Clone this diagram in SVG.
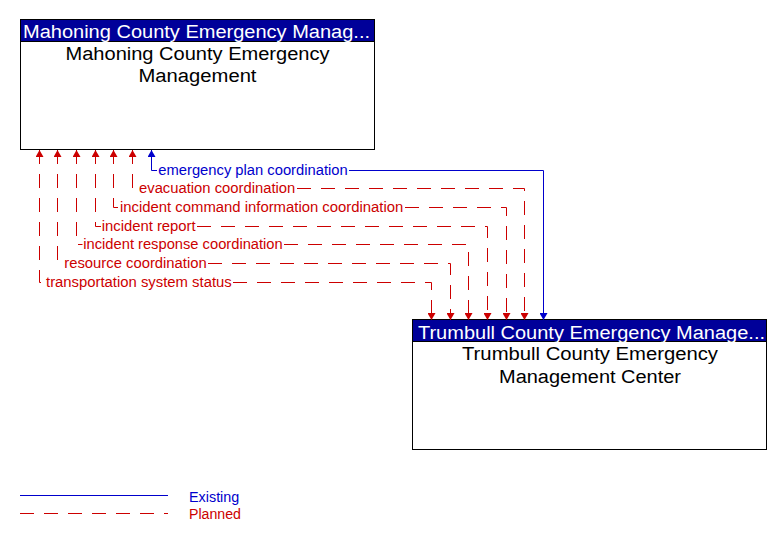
<svg xmlns="http://www.w3.org/2000/svg" width="783" height="542" viewBox="0 0 783 542">
<style>
  .box { fill: #ffffff; stroke: #000000; stroke-width: 1; }
  .hdr { fill: #000099; stroke: #000000; stroke-width: 1; }
  .ht { font-family: "Liberation Sans", Arial, sans-serif; font-size: 18px; fill: #ffffff; }
  .bt { font-family: "Liberation Sans", Arial, sans-serif; font-size: 18px; fill: #000000; text-anchor: middle; }
  .lbl { font-family: "Liberation Sans", Arial, sans-serif; font-size: 14px; }
  .red { fill: none; stroke: #CC0000; stroke-width: 1; stroke-dasharray: 14 10; }
  .blue { fill: none; stroke: #0000CC; stroke-width: 1; }
  .rt { fill: #CC0000; }
  .btx { fill: #0000CC; }
</style>
<defs>
  <marker id="ar" viewBox="0 0 7 8" refX="7" refY="4" markerWidth="7" markerHeight="8" markerUnits="userSpaceOnUse" orient="auto-start-reverse">
    <path d="M0,0 L7,4 L0,8 z" fill="#CC0000"/>
  </marker>
  <marker id="ab" viewBox="0 0 7 8" refX="7" refY="4" markerWidth="7" markerHeight="8" markerUnits="userSpaceOnUse" orient="auto-start-reverse">
    <path d="M0,0 L7,4 L0,8 z" fill="#0000CC"/>
  </marker>
</defs>

<g id="mahoning">
  <rect class="box" x="20.5" y="19.5" width="354" height="130"/>
  <rect class="hdr" x="20.5" y="19.5" width="354" height="22"/>
  <text class="ht" x="23" y="38" textLength="347" lengthAdjust="spacingAndGlyphs">Mahoning County Emergency Manag...</text>
  <text class="bt" x="197.5" y="60" textLength="264" lengthAdjust="spacingAndGlyphs">Mahoning County Emergency</text>
  <text class="bt" x="197.5" y="82" textLength="118" lengthAdjust="spacingAndGlyphs">Management</text>
</g>

<g id="trumbull">
  <rect class="box" x="412.5" y="319.5" width="354" height="130"/>
  <rect class="hdr" x="412.5" y="319.5" width="354" height="22"/>
  <text class="ht" x="418" y="338.5" textLength="347" lengthAdjust="spacingAndGlyphs">Trumbull County Emergency Manage...</text>
  <text class="bt" x="590" y="359.5" textLength="256" lengthAdjust="spacingAndGlyphs">Trumbull County Emergency</text>
  <text class="bt" x="590" y="382.5" textLength="182" lengthAdjust="spacingAndGlyphs">Management Center</text>
</g>

<g id="connectors">
  <path class="blue" d="M151.5,150 L151.5,170.5 L157,170.5 M349,170.5 L543.5,170.5 L543.5,320" marker-start="url(#ab)" marker-end="url(#ab)"/>
  <text class="lbl btx" x="158.3" y="174.5" textLength="189.4" lengthAdjust="spacingAndGlyphs">emergency plan coordination</text>

  <path class="red" d="M132.5,150 L132.5,188.5 L138,188.5 M297,188.5 L524.5,188.5 L524.5,320" marker-start="url(#ar)" marker-end="url(#ar)"/>
  <text class="lbl rt" x="139" y="192.5" textLength="156.3" lengthAdjust="spacingAndGlyphs">evacuation coordination</text>

  <path class="red" d="M113.5,150 L113.5,207.5 L119,207.5 M405,207.5 L506.5,207.5 L506.5,320" marker-start="url(#ar)" marker-end="url(#ar)"/>
  <text class="lbl rt" x="120" y="211.5" textLength="283.3" lengthAdjust="spacingAndGlyphs">incident command information coordination</text>

  <path class="red" d="M95.5,150 L95.5,226.5 L101,226.5 M197,226.5 L487.5,226.5 L487.5,320" marker-start="url(#ar)" marker-end="url(#ar)"/>
  <text class="lbl rt" x="101.7" y="230.5" textLength="94" lengthAdjust="spacingAndGlyphs">incident report</text>

  <path class="red" d="M76.5,150 L76.5,244.5 L82.5,244.5 M284,244.5 L468.5,244.5 L468.5,320" marker-start="url(#ar)" marker-end="url(#ar)"/>
  <text class="lbl rt" x="83.3" y="248.5" textLength="199.4" lengthAdjust="spacingAndGlyphs">incident response coordination</text>

  <path class="red" d="M57.5,150 L57.5,263.5 L63.5,263.5 M208,263.5 L450.5,263.5 L450.5,320" marker-start="url(#ar)" marker-end="url(#ar)"/>
  <text class="lbl rt" x="64.3" y="267.5" textLength="142.4" lengthAdjust="spacingAndGlyphs">resource coordination</text>

  <path class="red" d="M39.5,150 L39.5,282.5 L45,282.5 M233,282.5 L431.5,282.5 L431.5,320" marker-start="url(#ar)" marker-end="url(#ar)"/>
  <text class="lbl rt" x="46" y="286.5" textLength="185.7" lengthAdjust="spacingAndGlyphs">transportation system status</text>
</g>

<g id="legend">
  <line class="blue" x1="20" y1="495.5" x2="168" y2="495.5"/>
  <line class="red" x1="20" y1="513.5" x2="168" y2="513.5"/>
  <text class="lbl btx" x="189" y="501.5" textLength="50.3" lengthAdjust="spacingAndGlyphs">Existing</text>
  <text class="lbl rt" x="189" y="519" textLength="52" lengthAdjust="spacingAndGlyphs">Planned</text>
</g>
</svg>
